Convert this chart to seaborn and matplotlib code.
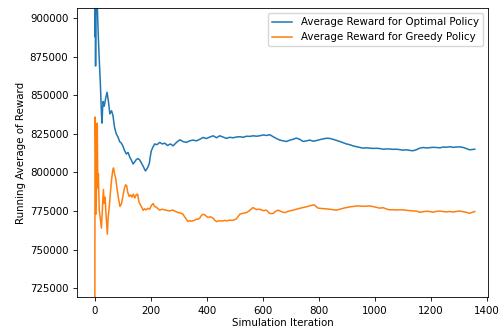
import pandas as pd
import seaborn as sns
import matplotlib.pyplot as plt

# running average of reward per simulation iteration
opt_iter = [0, 1, 2, 3, 4, 6, 8, 10, 12, 15, 18, 20, 22, 24, 26, 28, 30, 34, 39, 44,
            49, 54, 60, 65, 71, 77, 83, 89, 95, 101, 107, 113, 119, 125, 131, 137, 143,
            149, 155, 161, 167, 173, 177, 181, 185, 190, 195, 198, 202, 208, 214, 222,
            232, 241, 250, 260, 270, 280, 292, 304, 316, 327, 339, 351, 363, 375, 387,
            399, 411, 423, 435, 446, 458, 470, 482, 494, 506, 518, 530, 542, 554, 566,
            578, 589, 601, 613, 625, 637, 649, 661, 673, 685, 697, 708, 720, 732, 744,
            756, 768, 780, 792, 804, 816, 828, 839, 851, 863, 875, 887, 899, 911, 923,
            935, 946, 958, 970, 982, 994, 1006, 1018, 1030, 1042, 1054, 1066, 1077,
            1089, 1101, 1113, 1125, 1137, 1149, 1161, 1173, 1185, 1196, 1208, 1220,
            1232, 1244, 1256, 1268, 1280, 1292, 1304, 1316, 1328, 1339, 1348, 1357]
opt_reward = [1000000, 888000, 930000, 869000, 912000, 925000, 915000, 903000, 892000,
              878000, 866000, 858000, 847000, 838000, 832000, 841000, 846000, 843000,
              848000, 852000, 846000, 838000, 840000, 837000, 829000, 825000, 823000,
              820000, 819000, 817000, 814000, 812000, 813000, 810000, 808000, 805500,
              807000, 808500, 809000, 808000, 806000, 804000, 802500, 801000, 802000,
              803500, 806000, 810000, 814000, 816500, 818500, 818000, 819500, 818500,
              819000, 817500, 818500, 817300, 819500, 821200, 820000, 819500, 820500,
              821000, 820500, 821500, 822700, 822000, 823000, 823800, 822500, 823800,
              823000, 822100, 822800, 822500, 823000, 823200, 822800, 823500, 823400,
              823800, 823500, 823800, 824300, 824000, 824500, 823200, 822000, 821000,
              820500, 820100, 821000, 821500, 822300, 821500, 820100, 820500, 821000,
              820300, 820700, 821300, 821800, 822200, 822100, 821500, 820800, 820100,
              819300, 818500, 818000, 817200, 816700, 816200, 815800, 816000, 815800,
              815600, 815700, 815500, 815100, 815300, 815200, 815000, 815100, 814800,
              814500, 814700, 814300, 814100, 814800, 815800, 816200, 815900, 816100,
              816300, 816200, 816000, 816500, 816400, 816700, 816300, 816500, 816600,
              816200, 815400, 814700, 814900, 815100]

greedy_iter = [0, 1, 3, 5, 7, 9, 11, 13, 16, 20, 24, 27, 31, 34, 37, 40, 43, 45, 48, 52,
               56, 60, 64, 67, 71, 75, 80, 85, 90, 95, 100, 105, 110, 114, 118, 123, 128,
               133, 138, 143, 148, 153, 158, 163, 168, 173, 178, 183, 190, 196, 202, 208,
               214, 220, 226, 232, 240, 250, 260, 268, 278, 288, 298, 306, 315, 322, 328,
               333, 340, 346, 351, 358, 364, 369, 375, 381, 387, 393, 399, 405, 411, 417,
               423, 429, 435, 445, 455, 465, 470, 482, 494, 506, 518, 530, 542, 554, 565,
               577, 589, 601, 613, 625, 637, 645, 655, 667, 679, 690, 700, 708, 720, 732,
               744, 756, 768, 780, 786, 792, 798, 810, 822, 839, 851, 863, 875, 887, 899,
               911, 923, 935, 946, 958, 970, 982, 994, 1006, 1018, 1030, 1042, 1054, 1066,
               1077, 1089, 1101, 1113, 1125, 1137, 1149, 1161, 1173, 1185, 1196, 1208,
               1220, 1232, 1244, 1256, 1268, 1280, 1292, 1304, 1316, 1328, 1339, 1348, 1357]
greedy_reward = [600000, 836000, 828000, 773000, 800000, 832000, 790000, 799000, 776000,
                 770000, 764000, 775000, 789000, 780000, 784000, 774000, 766000, 760000,
                 771000, 778000, 787000, 795000, 801000, 803000, 799000, 796000, 789000,
                 783000, 778000, 779500, 784000, 789000, 792000, 791500, 787000, 784500,
                 785500, 784000, 786000, 783500, 785500, 786000, 781000, 779000, 777500,
                 775500, 776500, 775800, 776800, 776200, 778500, 779900, 778000, 777500,
                 776500, 775600, 776200, 775800, 775300, 775100, 775700, 774800, 774000,
                 773800, 773000, 771000, 769500, 768200, 768800, 768500, 768700, 769200,
                 769800, 769700, 770500, 772200, 773000, 772500, 771600, 770800, 771300,
                 771000, 770300, 769000, 768200, 768800, 768500, 769000, 768600, 769100,
                 769000, 770000, 773000, 773600, 774000, 775500, 777300, 776000, 776200,
                 775300, 775600, 773400, 773400, 774800, 775600, 774600, 774000, 774800,
                 775300, 775600, 776200, 776800, 777300, 777800, 778400, 779000, 778800,
                 777700, 776900, 776700, 776500, 776200, 775900, 775600, 776200, 776800,
                 777300, 777700, 778000, 778300, 778300, 778100, 778200, 778300, 777900,
                 777400, 776900, 777200, 776300, 775800, 775900, 775700, 775800, 775800,
                 775500, 775300, 775100, 775000, 774200, 774600, 774900, 774700, 774300,
                 774800, 775000, 774700, 774500, 774700, 774400, 774800, 775000, 774600,
                 774100, 773600, 774200, 774700]

opt = pd.DataFrame({'iteration': opt_iter, 'reward': opt_reward})
greedy = pd.DataFrame({'iteration': greedy_iter, 'reward': greedy_reward})

plt.rcParams['font.size'] = 7.4
plt.rcParams['axes.linewidth'] = 0.6
plt.rcParams['xtick.major.width'] = 0.6
plt.rcParams['ytick.major.width'] = 0.6
plt.rcParams['xtick.major.size'] = 2.6
plt.rcParams['ytick.major.size'] = 2.6

fig = plt.figure(figsize=(5.02, 3.33), dpi=100)
ax = fig.add_axes([0.153, 0.108, 0.819, 0.868])

sns.lineplot(data=opt, x='iteration', y='reward', ax=ax, color='#1f77b4', lw=1.1,
             label='Average Reward for Optimal Policy')
sns.lineplot(data=greedy, x='iteration', y='reward', ax=ax, color='#ff7f0e', lw=1.1,
             label='Average Reward for Greedy Policy')

ax.set_xlim(-64, 1404)
ax.set_ylim(719300, 906600)
ax.set_xticks([0, 200, 400, 600, 800, 1000, 1200, 1400])
ax.set_yticks([725000, 750000, 775000, 800000, 825000, 850000, 875000, 900000])
ax.set_xlabel('Simulation Iteration', labelpad=2)
ax.set_ylabel('Running Average of Reward', labelpad=3)
ax.legend(loc='upper right', fontsize=7.4)

plt.savefig('out.png', dpi=100)
